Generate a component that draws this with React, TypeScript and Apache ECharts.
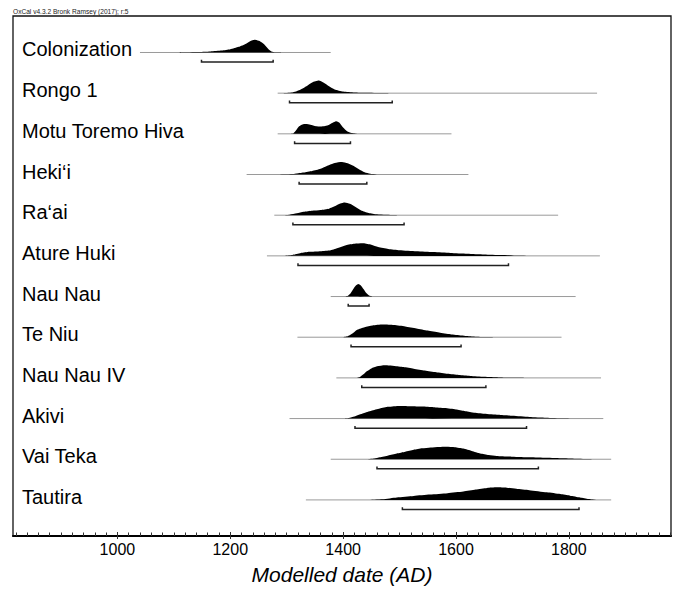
import React, { useEffect, useRef } from "react";
import * as echarts from "echarts";

// ---- data ----
const rowNames = [
  "Colonization",
  "Rongo 1",
  "Motu Toremo Hiva",
  "Heki‘i",
  "Ra‘ai",
  "Ature Huki",
  "Nau Nau",
  "Te Niu",
  "Nau Nau IV",
  "Akivi",
  "Vai Teka",
  "Tautira",
];

// [year AD, relative probability (peak = 1)]
const colonization = [[1110,0],[1140,0.03],[1165,0.08],[1185,0.15],[1200,0.25],[1215,0.45],[1228,0.7],[1238,0.95],[1245,1],[1252,0.92],[1260,0.65],[1267,0.3],[1273,0.08],[1280,0.01],[1290,0]];
const rongo1 = [[1295,0],[1310,0.05],[1323,0.25],[1335,0.55],[1345,0.85],[1357,1],[1365,0.85],[1375,0.55],[1385,0.3],[1400,0.14],[1420,0.06],[1440,0.03],[1470,0.005],[1480,0]];
const motuToremoHiva = [[1305,0],[1312,0.05],[1317,0.3],[1322,0.6],[1328,0.75],[1334,0.78],[1342,0.72],[1352,0.6],[1360,0.58],[1368,0.62],[1376,0.75],[1383,0.92],[1388,1],[1393,0.9],[1400,0.5],[1407,0.2],[1415,0.06],[1425,0]];
const hekii = [[1280,0],[1300,0.02],[1315,0.06],[1330,0.15],[1345,0.27],[1360,0.45],[1372,0.7],[1385,0.92],[1398,1],[1408,0.9],[1418,0.7],[1428,0.42],[1438,0.18],[1448,0.06],[1460,0.01],[1470,0]];
const raai = [[1295,0],[1305,0.04],[1318,0.15],[1330,0.27],[1345,0.36],[1360,0.42],[1375,0.52],[1385,0.7],[1395,0.92],[1403,1],[1412,0.9],[1422,0.65],[1432,0.38],[1445,0.18],[1460,0.07],[1475,0.03],[1495,0]];
const atureHuki = [[1295,0],[1310,0.06],[1325,0.22],[1340,0.32],[1360,0.37],[1378,0.45],[1392,0.65],[1405,0.85],[1420,0.96],[1436,1],[1450,0.88],[1462,0.7],[1480,0.55],[1500,0.45],[1530,0.37],[1560,0.3],[1590,0.23],[1620,0.17],[1650,0.11],[1680,0.06],[1710,0.03],[1740,0.01],[1770,0]];
const nauNau = [[1402,0],[1408,0.05],[1413,0.25],[1418,0.6],[1423,0.9],[1427,1],[1431,0.9],[1436,0.6],[1441,0.28],[1446,0.08],[1452,0]];
const teNiu = [[1400,0],[1408,0.08],[1415,0.25],[1425,0.6],[1438,0.8],[1452,0.93],[1470,1],[1490,0.96],[1510,0.85],[1530,0.7],[1550,0.53],[1570,0.38],[1590,0.24],[1610,0.14],[1630,0.06],[1650,0.01],[1665,0]];
const nauNauIV = [[1425,0],[1430,0.08],[1436,0.28],[1442,0.52],[1450,0.75],[1460,0.92],[1474,1],[1490,0.95],[1507,0.86],[1525,0.73],[1545,0.58],[1565,0.44],[1585,0.32],[1605,0.23],[1625,0.16],[1650,0.09],[1675,0.04],[1700,0.01],[1720,0]];
const akivi = [[1400,0],[1410,0.05],[1420,0.17],[1436,0.42],[1450,0.62],[1465,0.8],[1480,0.93],[1500,1],[1520,0.98],[1540,0.95],[1560,0.9],[1580,0.83],[1600,0.72],[1615,0.6],[1630,0.48],[1650,0.38],[1675,0.3],[1700,0.22],[1730,0.13],[1760,0.07],[1790,0.02],[1810,0]];
const vaiTeka = [[1445,0],[1455,0.05],[1465,0.15],[1480,0.3],[1495,0.46],[1510,0.6],[1525,0.75],[1540,0.87],[1555,0.94],[1570,0.98],[1583,1],[1598,0.96],[1613,0.85],[1628,0.66],[1643,0.46],[1658,0.34],[1672,0.26],[1700,0.2],[1731,0.15],[1760,0.11],[1790,0.07],[1815,0.03],[1840,0]];
const tautira = [[1445,0],[1470,0.06],[1495,0.2],[1525,0.32],[1554,0.42],[1585,0.53],[1613,0.66],[1635,0.82],[1655,0.95],[1672,1],[1690,0.97],[1707,0.88],[1730,0.77],[1761,0.6],[1785,0.46],[1802,0.34],[1820,0.2],[1835,0.08],[1848,0]];

const densities = [colonization, rongo1, motuToremoHiva, hekii, raai, atureHuki, nauNau, teNiu, nauNauIV, akivi, vaiTeka, tautira];

// prior / plotted range (thin grey line)
const rangeStart = [1040, 1284, 1284, 1229, 1278, 1265, 1378, 1319, 1388, 1305, 1378, 1334];
const rangeEnd = [1378, 1850, 1592, 1622, 1781, 1855, 1812, 1787, 1857, 1861, 1875, 1875];
// 95.4% hpd range (bracket)
const hpdStart = [1149, 1305, 1314, 1322, 1311, 1320, 1409, 1414, 1433, 1421, 1460, 1505];
const hpdEnd = [1276, 1487, 1413, 1442, 1508, 1693, 1446, 1609, 1653, 1725, 1746, 1818];

const majorTicks = [1000, 1200, 1400, 1600, 1800];
const allTicks: number[] = [];
for (let y = 820; y <= 1980; y += 20) allTicks.push(y);

const X_MIN = 815;
const X_MAX = 1981;

export default function App() {
  const ref = useRef<HTMLDivElement>(null);
  useEffect(() => {
    if (!ref.current) return;
    const chart = echarts.init(ref.current, undefined, { renderer: "svg" });
    const PEAK = 0.31;
    const BRACKET = 0.235;
    const TICK = 0.055;
    const font = "Liberation Sans, Arial, Helvetica, sans-serif";
    const gridBox = { left: 13, right: 3, top: 16, bottom: 51 };
    chart.setOption({
      animation: false,
      backgroundColor: "#fff",
      textStyle: { fontFamily: font },
      grid: [
        {
          ...gridBox,
          show: true,
          borderColor: "#111",
          borderWidth: 1.3,
          backgroundColor: "transparent",
        },
        { ...gridBox, show: false },
      ],
      graphic: [
        {
          type: "text",
          left: 13,
          top: 8,
          style: { text: "OxCal v4.3.2 Bronk Ramsey (2017); r:5", fontSize: 6.6, fontFamily: font, fill: "#222" },
        },
      ],
      xAxis: [
        {
          type: "value",
          gridIndex: 0,
          min: X_MIN,
          max: X_MAX,
          position: "bottom",
          splitLine: { show: false },
          axisLine: { show: true, onZero: false, lineStyle: { color: "#000", width: 2 } },
          axisTick: { show: true, inside: true, length: 3.5, customValues: allTicks, lineStyle: { color: "#333", width: 1 } },
          axisLabel: {
            show: true,
            customValues: majorTicks,
            fontSize: 16,
            color: "#000",
            margin: 5,
            fontFamily: font,
            formatter: (v: number) => String(v),
          },
          name: "Modelled date (AD)",
          nameLocation: "middle",
          nameGap: 28,
          nameTextStyle: { fontSize: 21, fontStyle: "italic", color: "#000", fontFamily: font },
        },
        {
          type: "value",
          gridIndex: 1,
          min: X_MIN,
          max: X_MAX,
          position: "bottom",
          splitLine: { show: false },
          axisLine: { show: false, onZero: false },
          axisTick: { show: true, inside: true, length: 7, customValues: majorTicks, lineStyle: { color: "#333", width: 1 } },
          axisLabel: { show: false },
        },
      ],
      yAxis: [
        {
          type: "value",
          gridIndex: 0,
          min: -0.897,
          max: 11.887,
          inverse: true,
          show: false,
          splitLine: { show: false },
        },
        {
          type: "value",
          gridIndex: 1,
          min: 0,
          max: 1,
          show: false,
          splitLine: { show: false },
        },
      ],
      series: [
        {
          type: "custom",
          xAxisIndex: 0,
          yAxisIndex: 0,
          data: rowNames.map((_, i) => [rangeStart[i], i]),
          renderItem: (params: any, api: any) => {
            const row = params.dataIndex;
            const a = api.coord([rangeStart[row], row]);
            const b = api.coord([rangeEnd[row], row]);
            const pts = densities[row].map(([yr, d]) => api.coord([yr, row - PEAK * d]));
            const hs = api.coord([hpdStart[row], row + BRACKET]);
            const he = api.coord([hpdEnd[row], row + BRACKET]);
            const t = api.size([0, TICK])[1];
            return {
              type: "group",
              children: [
                {
                  type: "line",
                  shape: { x1: a[0], y1: a[1], x2: b[0], y2: b[1] },
                  style: { stroke: "#9a9a9a", lineWidth: 1 },
                },
                {
                  type: "polygon",
                  shape: { points: pts, smooth: 0.2 },
                  style: { fill: "#000" },
                },
                {
                  type: "polyline",
                  shape: { points: [[hs[0], hs[1] - t], [hs[0], hs[1]], [he[0], he[1]], [he[0], he[1] - t]] },
                  style: { stroke: "#222", lineWidth: 1.5, fill: "none" },
                },
                {
                  type: "text",
                  x: 22,
                  y: a[1] - 3,
                  style: {
                    text: rowNames[row],
                    fontSize: 20,
                    fontFamily: font,
                    fill: "#000",
                    verticalAlign: "middle",
                    align: "left",
                  },
                },
              ],
            };
          },
        },
      ],
    });
    return () => chart.dispose();
  }, []);
  return <div ref={ref} style={{ position: "absolute", left: 0, top: 0, width: 674, height: 590 }} />;
}
